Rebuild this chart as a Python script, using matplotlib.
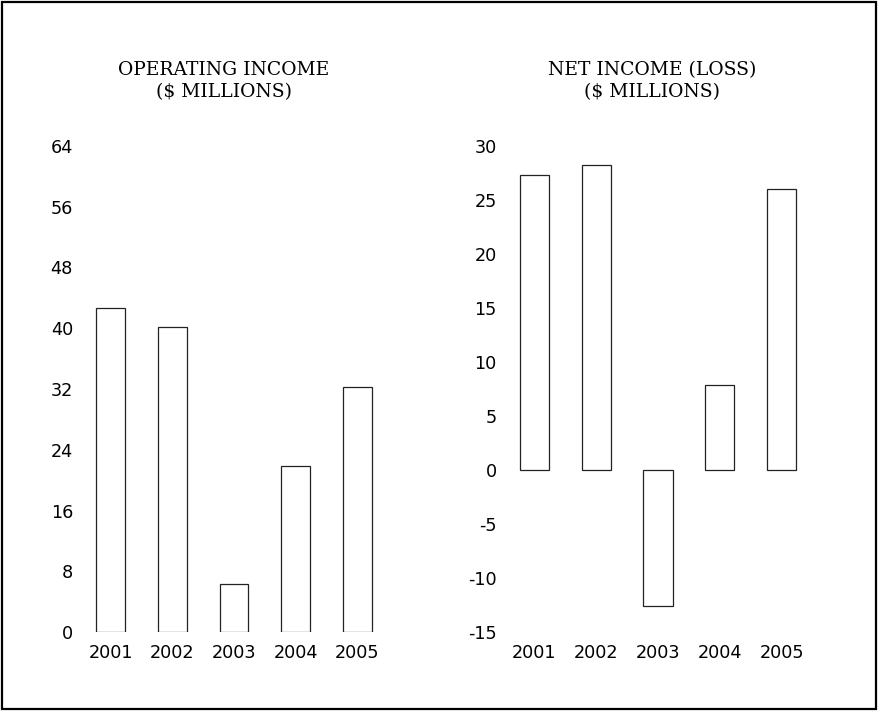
import matplotlib.pyplot as plt
from matplotlib.patches import Rectangle

years = ['2001', '2002', '2003', '2004', '2005']
operating_income = [42.7, 40.1, 6.3, 21.9, 32.2]
net_income = [27.3, 28.2, -12.6, 7.9, 26.0]

op_ticks = [0, 8, 16, 24, 32, 40, 48, 56, 64]
net_ticks = [-15, -10, -5, 0, 5, 10, 15, 20, 25, 30]

W, H = 879, 711
fig = plt.figure(figsize=(W / 100, H / 100), dpi=100)
fig.patch.set_facecolor('white')

# outer frame
fig.add_artist(Rectangle((2 / W, 2 / H), 874 / W, 707 / H, transform=fig.transFigure,
                         fill=False, edgecolor='black', linewidth=1.6))

tick_font = {'family': 'DejaVu Sans', 'size': 12.7}
title_font = {'family': 'DejaVu Serif', 'size': 13.5}


def make_panel(rect, values, ticks, ylim):
    ax = fig.add_axes(rect)
    ax.bar(range(len(years)), values, width=0.47, color='white',
           edgecolor='#222222', linewidth=0.9)
    ax.set_xlim(-0.5, len(years) - 0.5)
    ax.set_ylim(*ylim)
    ax.set_yticks(ticks)
    ax.set_yticklabels([str(t) for t in ticks], fontdict=tick_font)
    ax.set_xticks(range(len(years)))
    ax.set_xticklabels(years, fontdict=tick_font)
    ax.tick_params(axis='y', length=0, pad=5)
    ax.tick_params(axis='x', length=0, pad=9)
    for s in ax.spines.values():
        s.set_visible(False)
    ax.set_facecolor('none')
    return ax


bottom = 1 - 632 / H
height = (632 - 146) / H
make_panel([80 / W, bottom, 308 / W, height], operating_income, op_ticks, (0, 64))
make_panel([503.5 / W, bottom, 309 / W, height], net_income, net_ticks, (-15, 30))

fig.text(224 / W, 1 - 70 / H, 'OPERATING INCOME', ha='center', va='center', **title_font)
fig.text(224 / W, 1 - 92 / H, '($ MILLIONS)', ha='center', va='center', **title_font)
fig.text(652 / W, 1 - 70 / H, 'NET INCOME (LOSS)', ha='center', va='center', **title_font)
fig.text(652 / W, 1 - 92 / H, '($ MILLIONS)', ha='center', va='center', **title_font)

plt.savefig('out.png', dpi=100)
